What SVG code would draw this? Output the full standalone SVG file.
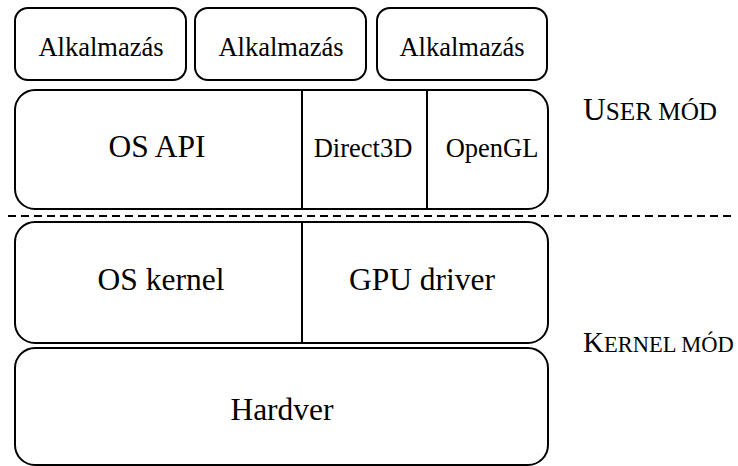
<svg xmlns="http://www.w3.org/2000/svg" width="738" height="466" viewBox="0 0 738 466" font-family="Liberation Serif, Times New Roman, Tinos, DejaVu Serif, serif">
  <style>
    .box { fill: #ffffff; stroke: #000000; stroke-width: 2; }
    .div { stroke: #000000; stroke-width: 2; }
    text { font-family: "Liberation Serif", "Times New Roman", Tinos, "DejaVu Serif", serif; fill: #000000; }
    .t { text-anchor: middle; }
    .m { font-size: 26.5px; }
    .l { font-size: 31.5px; }
    .sep { stroke: #000000; stroke-width: 2; stroke-dasharray: 8 5; fill: none; }
  </style>

  <!-- applications -->
  <g id="app1">
    <rect class="box" x="15" y="8" width="171" height="72" rx="13"/>
    <text class="t m" x="101" y="56">Alkalmazás</text>
  </g>
  <g id="app2">
    <rect class="box" x="195" y="8" width="171" height="72" rx="13"/>
    <text class="t m" x="281" y="56">Alkalmazás</text>
  </g>
  <g id="app3">
    <rect class="box" x="377" y="8" width="170" height="72" rx="13"/>
    <text class="t m" x="462" y="56">Alkalmazás</text>
  </g>

  <!-- user-mode API layer -->
  <g id="api-layer">
    <rect class="box" x="15" y="90" width="533" height="119" rx="20"/>
    <line class="div" x1="302" y1="90" x2="302" y2="209"/>
    <line class="div" x1="427" y1="90" x2="427" y2="209"/>
    <text class="t l" x="157" y="157">OS API</text>
    <text class="t m" x="363" y="157">Direct3D</text>
    <text class="t m" x="492" y="157">OpenGL</text>
  </g>

  <!-- kernel layer -->
  <g id="kernel-layer">
    <rect class="box" x="15" y="222" width="533" height="121" rx="20"/>
    <line class="div" x1="302" y1="222" x2="302" y2="343"/>
    <text class="t l" x="161" y="290">OS kernel</text>
    <text class="t l" x="422" y="290">GPU driver</text>
  </g>

  <!-- hardware -->
  <g id="hardware">
    <rect class="box" x="15" y="348" width="533" height="117" rx="20"/>
    <text class="t l" x="282" y="420">Hardver</text>
  </g>

  <!-- user / kernel boundary -->
  <g id="connectors">
    <line class="sep" x1="8" y1="216" x2="731" y2="216"/>
  </g>

  <!-- mode labels, set in small capitals -->
  <g id="user-mode">
    <text x="583" y="120" font-size="31.5">U<tspan font-size="25.2">SER MÓD</tspan></text>
  </g>
  <g id="kernel-mode">
    <text x="583" y="352" font-size="29">K<tspan font-size="22.5">ERNEL MÓD</tspan></text>
  </g>
</svg>
